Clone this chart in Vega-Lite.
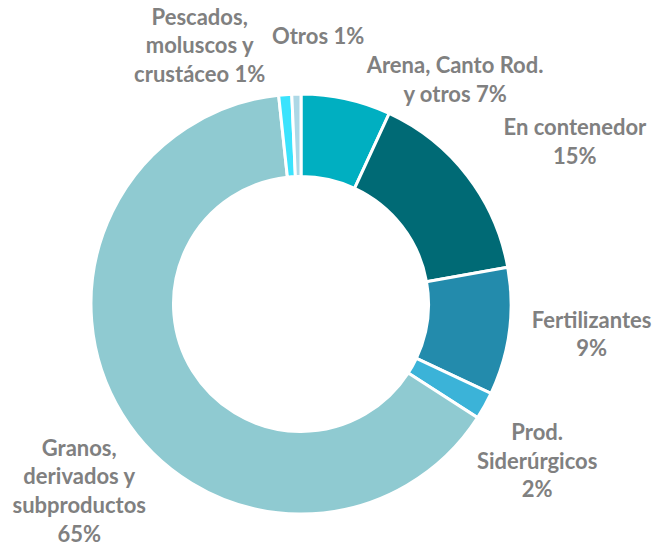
{
  "$schema": "https://vega.github.io/schema/vega-lite/v6.json",
  "autosize": {"type": "none"},
  "width": 602,
  "height": 488,
  "padding": {"left": 0, "top": 60, "right": 51, "bottom": 0},
  "background": "white",
  "config": {"view": {"stroke": null}},
  "data": {
    "values": [
      {"orden": 1, "cat": "Arena", "valor": 6.9, "label": "Arena, Canto Rod.\ny otros 7%"},
      {"orden": 2, "cat": "Contenedor", "valor": 15.3, "label": "En contenedor\n15%"},
      {"orden": 3, "cat": "Fertilizantes", "valor": 9.8, "label": "Fertilizantes\n9%"},
      {"orden": 4, "cat": "Siderurgicos", "valor": 2.1, "label": "Prod.\nSiderúrgicos\n2%"},
      {"orden": 5, "cat": "Granos", "valor": 64.2, "label": "Granos,\nderivados y\nsubproductos\n65%"},
      {"orden": 6, "cat": "Pescados", "valor": 1.0, "label": "Pescados,\nmoluscos y\ncrustáceo 1%"},
      {"orden": 7, "cat": "Otros", "valor": 0.7, "label": "Otros 1%"}
    ]
  },
  "encoding": {
    "theta": {"field": "valor", "type": "quantitative", "stack": true},
    "order": {"field": "orden", "type": "quantitative"}
  },
  "layer": [
    {
      "mark": {"type": "arc", "outerRadius": 210, "innerRadius": 127.5, "stroke": "white", "strokeWidth": 3},
      "encoding": {
        "color": {
          "field": "cat",
          "type": "nominal",
          "sort": ["Arena", "Contenedor", "Fertilizantes", "Siderurgicos", "Granos", "Pescados", "Otros"],
          "scale": {
            "domain": ["Arena", "Contenedor", "Fertilizantes", "Siderurgicos", "Granos", "Pescados", "Otros"],
            "range": ["#00AFC1", "#006A75", "#238BAC", "#3BB3D8", "#8FCAD1", "#3BE3FD", "#ADD8E6"]
          },
          "legend": null
        }
      }
    },
    {
      "mark": {"type": "text", "radius": 270, "dx": 96, "dy": 26, "font": "Lato", "fontWeight": "bold", "fontSize": 22, "lineHeight": 28.7, "fill": "#808080", "align": "center", "baseline": "middle", "lineBreak": "\n"},
      "encoding": {"detail": {"field": "cat"}, "text": {"condition": {"test": "datum.cat === 'Arena'", "field": "label"}, "value": ""}}
    },
    {
      "mark": {"type": "text", "radius": 270, "dx": 60, "dy": -11, "font": "Lato", "fontWeight": "bold", "fontSize": 22, "lineHeight": 28.7, "fill": "#808080", "align": "center", "baseline": "middle", "lineBreak": "\n"},
      "encoding": {"detail": {"field": "cat"}, "text": {"condition": {"test": "datum.cat === 'Contenedor'", "field": "label"}, "value": ""}}
    },
    {
      "mark": {"type": "text", "radius": 270, "dx": 23, "dy": -19, "font": "Lato", "fontWeight": "bold", "fontSize": 22, "lineHeight": 28.7, "fill": "#808080", "align": "center", "baseline": "middle", "lineBreak": "\n"},
      "encoding": {"detail": {"field": "cat"}, "text": {"condition": {"test": "datum.cat === 'Fertilizantes'", "field": "label"}, "value": ""}}
    },
    {
      "mark": {"type": "text", "radius": 270, "dx": 0, "dy": -2, "font": "Lato", "fontWeight": "bold", "fontSize": 22, "lineHeight": 28.7, "fill": "#808080", "align": "center", "baseline": "middle", "lineBreak": "\n"},
      "encoding": {"detail": {"field": "cat"}, "text": {"condition": {"test": "datum.cat === 'Siderurgicos'", "field": "label"}, "value": ""}}
    },
    {
      "mark": {"type": "text", "radius": 270, "dx": 8, "dy": 3, "font": "Lato", "fontWeight": "bold", "fontSize": 22, "lineHeight": 28.7, "fill": "#808080", "align": "center", "baseline": "middle", "lineBreak": "\n"},
      "encoding": {"detail": {"field": "cat"}, "text": {"condition": {"test": "datum.cat === 'Granos'", "field": "label"}, "value": ""}}
    },
    {
      "mark": {"type": "text", "radius": 270, "dx": -81, "dy": -17, "font": "Lato", "fontWeight": "bold", "fontSize": 22, "lineHeight": 28.7, "fill": "#808080", "align": "center", "baseline": "middle", "lineBreak": "\n"},
      "encoding": {"detail": {"field": "cat"}, "text": {"condition": {"test": "datum.cat === 'Pescados'", "field": "label"}, "value": ""}}
    },
    {
      "mark": {"type": "text", "radius": 270, "dx": 23, "dy": 3, "font": "Lato", "fontWeight": "bold", "fontSize": 22, "lineHeight": 28.7, "fill": "#808080", "align": "center", "baseline": "middle", "lineBreak": "\n"},
      "encoding": {"detail": {"field": "cat"}, "text": {"condition": {"test": "datum.cat === 'Otros'", "field": "label"}, "value": ""}}
    }
  ]
}
